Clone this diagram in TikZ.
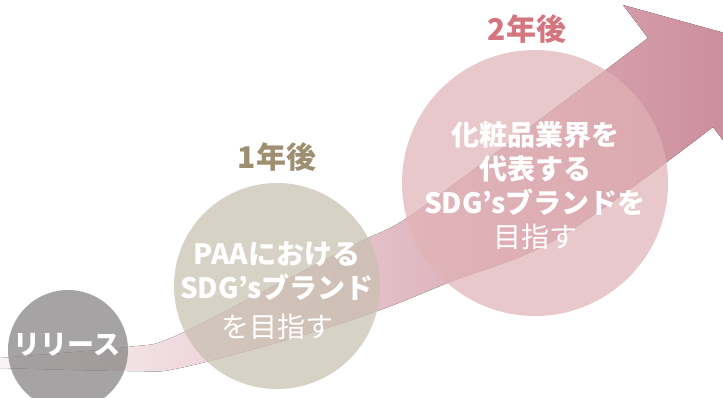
\documentclass[tikz,border=0pt]{standalone}
\usepackage{fontspec}
\setmainfont{Noto Sans CJK JP}
\definecolor{grayc}{RGB}{128,125,125}
\definecolor{beigec}{RGB}{199,191,175}
\definecolor{pinkc}{RGB}{224,178,182}
\definecolor{yrone}{RGB}{158,143,112}
\definecolor{yrtwo}{RGB}{212,118,128}
\definecolor{arrowL}{RGB}{252,247,248}
\definecolor{arrowM}{RGB}{235,207,212}
\definecolor{arrowR}{RGB}{204,140,154}
\tikzset{
  stage/.style={circle, inner sep=0pt, fill opacity=0.7},
  stagetext/.style={text=white, align=center, inner sep=0pt, font=\fontsize{28}{34}\selectfont},
  yearlabel/.style={inner sep=0pt, font=\bfseries\fontsize{30}{36}\selectfont},
  growth/.style={left color=arrowL, middle color=arrowM, right color=arrowR}
}
\begin{document}
\begin{tikzpicture}[x=1pt, y=-1pt]
\useasboundingbox (0,0) rectangle (723,397);
\fill[white] (0,0) rectangle (723,397);
\clip (0,0) rectangle (723,397);
% growth arrow
\fill[growth] plot[smooth, tension=0.6] coordinates {(-20,360) (0,358) (128,347) (173,337) (270,288) (360,242) (410,216) (510,142) (607,69) (648,38)}
  -- (623,5) -- (739,37) -- (738,160) -- (713,127)
  -- plot[smooth, tension=0.6] coordinates {(713,127) (560,237) (450,282) (380,310) (300,336) (180,368) (130,371) (0,368) (-20,367)} -- cycle;
% stages
\node[stage, fill=grayc, minimum size=120pt] (release) at (68,350) {};
\node[stage, fill=beigec, minimum size=206pt] (year1) at (277,286) {};
\node[stage, fill=pinkc, minimum size=266pt] (year2) at (535,183) {};
% texts
\node[stagetext, font=\bfseries\fontsize{27}{32}\selectfont] (releasetext) at (67,345) {リリース};
\node[stagetext] (year1text) at (277,291) {{\bfseries PAAにおける}\\{\bfseries SDG’sブランド}\\[5pt]を目指す};
\node[stagetext] (year2text) at (535,186) {{\bfseries 化粧品業界を}\\{\bfseries 代表する}\\{\bfseries SDG’sブランドを}\\目指す};
\node[yearlabel, text=yrone] (year1label) at (277,157) {1年後};
\node[yearlabel, text=yrtwo] (year2label) at (527,29) {2年後};
\end{tikzpicture}
\end{document}
